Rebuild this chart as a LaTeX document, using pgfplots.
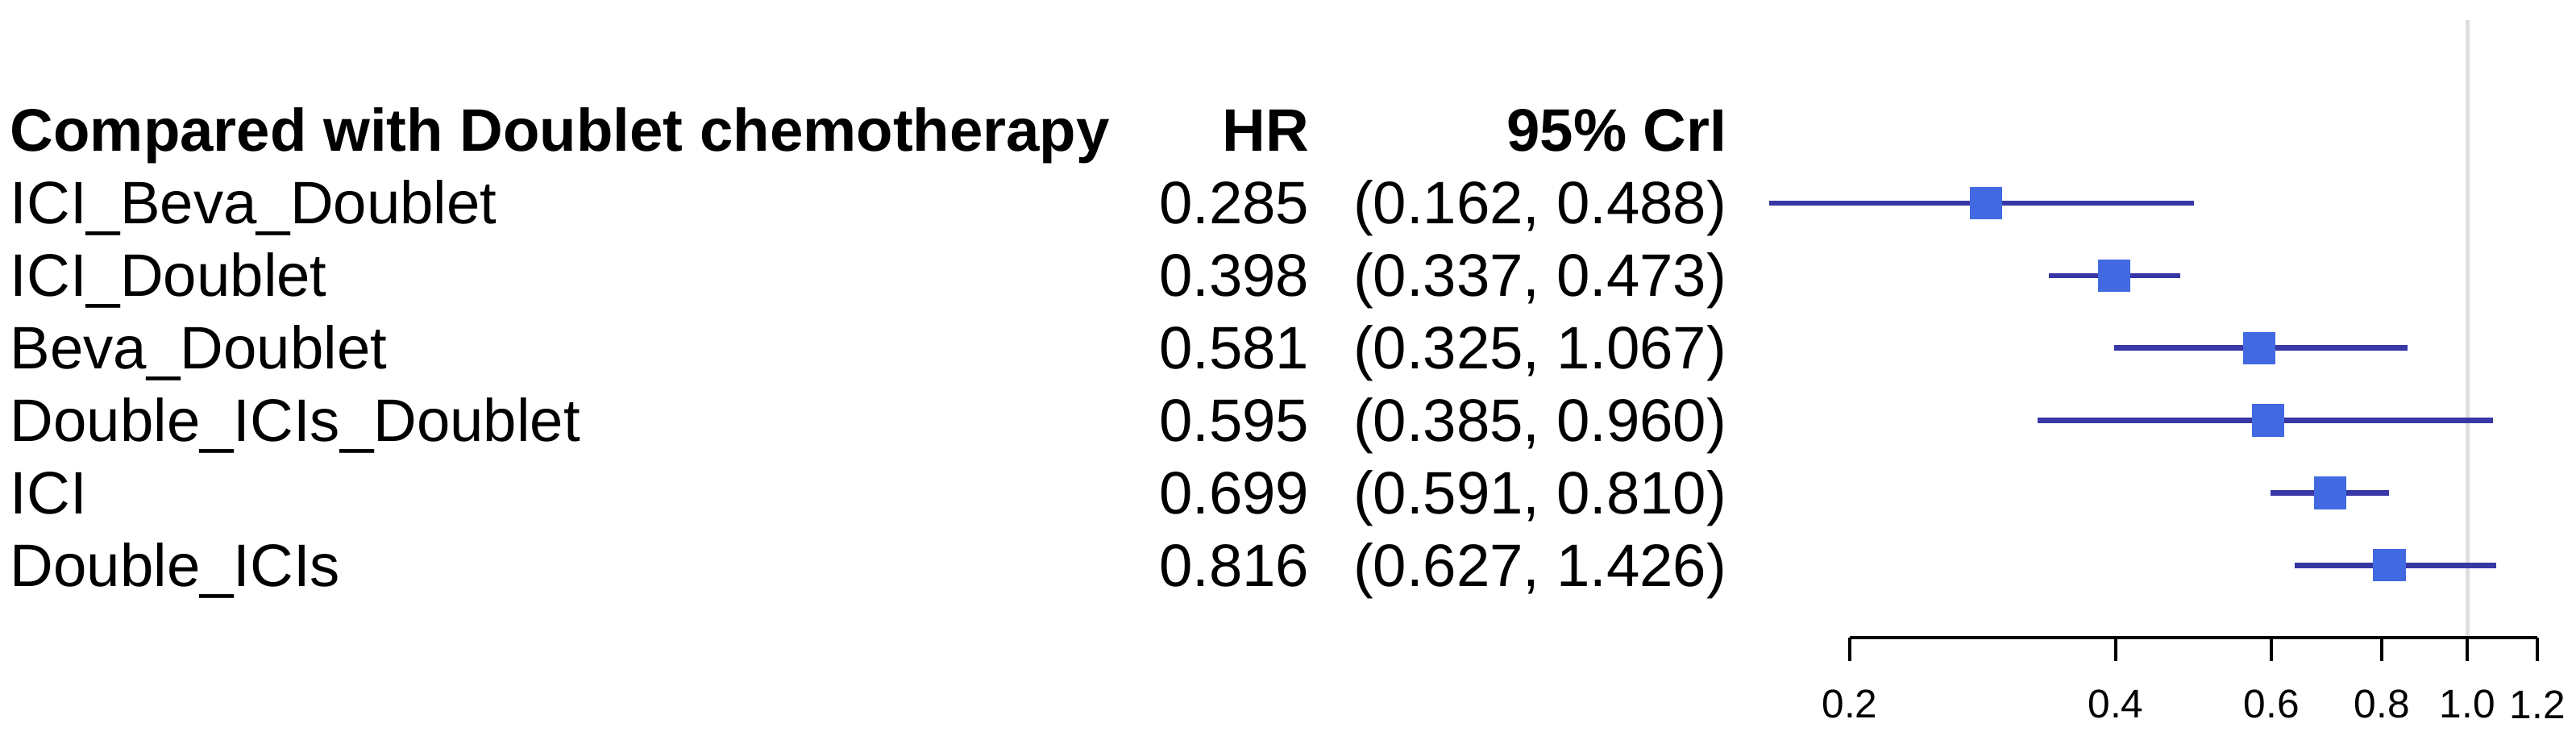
\documentclass[border=0pt]{standalone}
\usepackage{fontspec}
\setmainfont{Liberation Sans}
\usepackage{pgfplots}
\pgfplotsset{compat=1.18}

\definecolor{sqblue}{RGB}{65,105,225}
\definecolor{ciblue}{RGB}{55,55,165}
\definecolor{refgray}{RGB}{222,222,222}

\newcommand{\rowfont}{\fontsize{18.6}{21}\selectfont}

\begin{document}
\begin{tikzpicture}
% canvas: 3196 x 918 px at 0.25pt per px
\path (0,0) rectangle (799pt,229.5pt);

\begin{axis}[
  at={(539.55pt,31.675pt)}, anchor=south west,
  scale only axis, width=257.1pt, height=197.8pt,
  xmode=log, xmin=0.15, xmax=1.3,
  ymin=0, ymax=8.8,
  hide y axis,
  axis x line*=bottom,
  x axis line style={draw=none},
  xtick={0.2,0.4,0.6,0.8,1.0,1.2},
  xticklabels={0.2,0.4,0.6,0.8,1.0,1.2},
  xminorticks=false,
  tick align=outside,
  major tick length=7.15pt,
  x tick style={black, line width=1pt},
  xticklabel style={font=\fontsize{12.4}{14}\selectfont, anchor=center, yshift=-13.5pt},
  clip=false,
]
% reference line at HR = 1
\addplot[refgray, line width=1.3pt] coordinates {(1,0) (1,8.52)};
% axis line from 0.2 to 1.2
\addplot[black, line width=1pt] coordinates {(0.2,0) (1.2,0)};

% credible intervals as drawn
\addplot[ciblue, line width=1.6pt] coordinates {(0.162,6) (0.490,6)};
\addplot[ciblue, line width=1.6pt] coordinates {(0.336,5) (0.473,5)};
\addplot[ciblue, line width=1.6pt] coordinates {(0.398,4) (0.855,4)};
\addplot[ciblue, line width=1.6pt] coordinates {(0.326,3) (1.068,3)};
\addplot[ciblue, line width=1.6pt] coordinates {(0.598,2) (0.815,2)};
\addplot[ciblue, line width=1.6pt] coordinates {(0.637,1) (1.078,1)};

% point estimates
\addplot[only marks, mark=square*, mark size=4.9pt,
  mark options={fill=sqblue, draw=sqblue, line width=0pt}] coordinates {
  (0.285,6) (0.398,5) (0.581,4) (0.595,3) (0.699,2) (0.816,1)};
\end{axis}

% table text
\begin{scope}[every node/.style={inner sep=0pt, font=\rowfont}]
\node[anchor=base west, font=\rowfont\bfseries] at (3pt,182.5pt) {Compared with Doublet chemotherapy};
\node[anchor=base east, font=\rowfont\bfseries] at (406.3pt,182.5pt) {HR};
\node[anchor=base east, font=\rowfont\bfseries] at (535.8pt,182.5pt) {95\% CrI};

\foreach \lab/\hr/\ci [count=\i from 0] in {
  ICI\_Beva\_Doublet/0.285/{(0.162, 0.488)},
  ICI\_Doublet/0.398/{(0.337, 0.473)},
  Beva\_Doublet/0.581/{(0.325, 1.067)},
  Double\_ICIs\_Doublet/0.595/{(0.385, 0.960)},
  ICI/0.699/{(0.591, 0.810)},
  Double\_ICIs/0.816/{(0.627, 1.426)}} {
  \pgfmathsetmacro{\yb}{160.05-22.48*\i}
  \node[anchor=base west] at (3pt,\yb pt) {\lab};
  \node[anchor=base east] at (406.3pt,\yb pt) {\hr};
  \node[anchor=base east] at (535.8pt,\yb pt) {\ci};
}
\end{scope}
\end{tikzpicture}
\end{document}
